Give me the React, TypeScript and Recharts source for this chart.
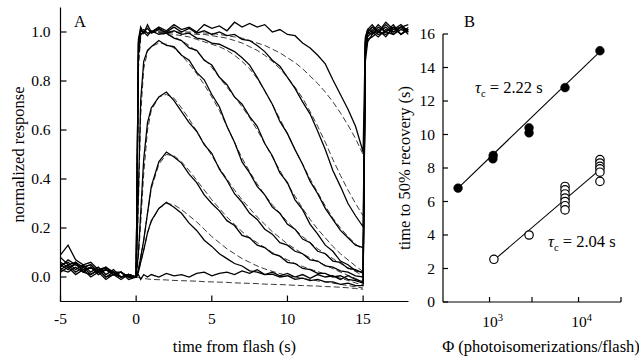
import React from 'react';
import { ComposedChart, LineChart, Line, XAxis, YAxis, Scatter } from 'recharts';

// ---------- Panel A: normalized responses ----------
const T = [-5, -4.5, -4, -3.5, -3, -2.5, -2, -1.5, -1, -0.5, 0, 0.15, 0.3, 0.5, 0.75,
  1, 1.5, 2, 2.5, 3, 3.5, 4, 4.5, 5, 5.5, 6, 6.5, 7, 7.5, 8, 8.5, 9, 9.5, 10, 10.5,
  11, 11.5, 12, 12.5, 13, 13.5, 14, 14.5, 15, 15.15, 15.3, 15.6, 16, 16.5, 17, 17.5, 18];

const TRACE_NONE = [0.02, 0.04, 0.01, 0.03, 0.0, 0.02, -0.01, 0.01, -0.01, 0.01, 0.0,
  0.01, -0.01, 0.01, 0.0,
  0.01, 0.0, 0.015, 0.005, 0.01, 0.0, 0.015, 0.02, 0.005, 0.015, 0.02, 0.01, 0.025, 0.015, 0.03,
  0.01, 0.02, 0.005, 0.015, 0.0, 0.01, -0.005, 0.01, 0.0, 0.005, -0.01, 0.005, -0.01, -0.02,
  0.88, 0.96, 0.99, 1.01, 0.98, 1.02, 0.99, 1.01];
const TRACE_030 = [0.06, 0.04, 0.05, 0.03, 0.04, 0.02, 0.03, 0.01, 0.02, 0.0, 0.0,
  0.02, 0.06, 0.11, 0.18,
  0.23, 0.28, 0.305, 0.285, 0.26, 0.22, 0.19, 0.15, 0.125, 0.095, 0.075, 0.055, 0.045, 0.025, 0.02,
  0.01, 0.012, 0.0, 0.005, -0.01, -0.005, -0.015, -0.01, -0.02, -0.02, -0.03, -0.025, -0.035, -0.035,
  0.91, 0.97, 0.98, 1.0, 1.02, 0.99, 1.01, 1.0];
const TRACE_050 = [0.08, 0.05, 0.06, 0.04, 0.05, 0.02, 0.03, 0.01, 0.02, 0.0, 0.0,
  0.03, 0.08, 0.15, 0.26,
  0.37, 0.47, 0.51, 0.49, 0.465, 0.42, 0.385, 0.335, 0.3, 0.27, 0.23, 0.21, 0.17, 0.16, 0.13,
  0.12, 0.095, 0.085, 0.06, 0.055, 0.035, 0.03, 0.015, 0.015, 0.0, 0.005, -0.01, -0.015, -0.025,
  0.93, 0.98, 1.0, 0.98, 1.01, 1.0, 1.02, 0.99];
const TRACE_074 = [0.05, 0.06, 0.03, 0.05, 0.02, 0.04, 0.01, 0.03, 0.0, 0.01, 0.0,
  0.1, 0.26, 0.48, 0.63,
  0.69, 0.735, 0.755, 0.72, 0.675, 0.63, 0.595, 0.54, 0.505, 0.44, 0.395, 0.34, 0.305, 0.26, 0.235,
  0.195, 0.175, 0.14, 0.13, 0.105, 0.095, 0.07, 0.065, 0.045, 0.04, 0.025, 0.02, 0.005, 0.0,
  0.94, 0.99, 1.01, 0.99, 1.0, 1.03, 0.99, 1.01];
const TRACE_095 = [0.04, 0.07, 0.05, 0.04, 0.05, 0.02, 0.04, 0.01, 0.02, -0.01, 0.0,
  0.35, 0.72, 0.88, 0.925,
  0.94, 0.965, 0.945, 0.94, 0.905, 0.885, 0.835, 0.805, 0.745, 0.695, 0.615, 0.55, 0.47, 0.425, 0.37,
  0.335, 0.285, 0.26, 0.215, 0.195, 0.155, 0.14, 0.105, 0.095, 0.065, 0.06, 0.035, 0.03, 0.015,
  0.95, 1.0, 0.99, 1.02, 1.0, 0.99, 1.02, 1.0];
const TRACE_SAT1 = [0.03, 0.02, 0.04, 0.02, 0.01, 0.03, 0.0, 0.01, 0.0, 0.01, 0.0,
  0.9, 0.99, 1.0, 0.985,
  1.005, 0.99, 0.995, 0.975, 0.965, 0.935, 0.925, 0.885, 0.865, 0.815, 0.785, 0.735, 0.705, 0.655, 0.615,
  0.545, 0.495, 0.425, 0.385, 0.315, 0.275, 0.215, 0.175, 0.13, 0.105, 0.065, 0.05, 0.025, 0.02,
  0.96, 1.0, 1.02, 1.0, 0.99, 1.01, 1.03, 1.0];
const TRACE_SAT2 = [0.09, 0.13, 0.07, 0.05, 0.06, 0.03, 0.04, 0.02, 0.02, 0.0, 0.0,
  0.95, 1.0, 1.01, 0.995,
  1.0, 1.015, 0.995, 1.005, 0.99, 0.995, 0.975, 0.97, 0.955, 0.95, 0.935, 0.92, 0.895, 0.865, 0.815,
  0.76, 0.705, 0.635, 0.585, 0.52, 0.46, 0.39, 0.34, 0.28, 0.235, 0.19, 0.16, 0.13, 0.12,
  0.97, 1.01, 1.0, 1.03, 1.0, 1.02, 0.99, 1.02];
const TRACE_SAT3 = [0.05, 0.03, 0.06, 0.02, 0.04, 0.01, 0.03, 0.02, 0.0, 0.01, 0.0,
  0.96, 1.01, 1.0, 1.015,
  0.995, 1.01, 1.0, 1.02, 1.0, 1.015, 0.995, 1.005, 0.99, 1.0, 0.985, 0.99, 0.97, 0.965, 0.945,
  0.92, 0.885, 0.86, 0.815, 0.77, 0.715, 0.665, 0.595, 0.52, 0.435, 0.37, 0.3, 0.25, 0.205,
  0.96, 1.0, 1.02, 1.0, 1.03, 1.0, 1.02, 1.01];
const TRACE_SAT4 = [0.03, 0.05, 0.02, 0.04, 0.01, 0.03, 0.0, 0.02, 0.0, 0.01, 0.0,
  0.97, 1.02, 0.995, 1.03,
  1.0, 1.02, 1.005, 1.03, 1.01, 1.02, 1.0, 1.03, 1.015, 1.025, 1.005, 1.04, 1.02, 1.035, 1.02,
  1.03, 1.0, 1.01, 0.99, 0.985, 0.955, 0.935, 0.905, 0.87, 0.805, 0.745, 0.685, 0.615, 0.51,
  0.98, 1.01, 1.03, 1.0, 1.04, 1.01, 1.02, 1.03];

// model fits (dashed), defined from t = 0 to t = 15 (T index 10 .. 43)
const FIT_START = 10;
const FIT_NONE = [0, -0.002, -0.004, -0.006, -0.008,
  -0.01, -0.011, -0.012, -0.014, -0.015, -0.016, -0.017, -0.019, -0.02, -0.021, -0.022, -0.024,
  -0.025, -0.026, -0.027, -0.029, -0.03, -0.031, -0.032, -0.034, -0.035, -0.036, -0.037, -0.039,
  -0.04, -0.042, -0.044, -0.047, -0.05];
const FIT_030 = [0, 0.02, 0.06, 0.11, 0.18,
  0.225, 0.28, 0.3, 0.295, 0.275, 0.25, 0.225, 0.195, 0.165, 0.14, 0.115, 0.095, 0.075, 0.06, 0.045,
  0.033, 0.023, 0.014, 0.006, 0.0, -0.006, -0.011, -0.016, -0.02, -0.025, -0.03, -0.035, -0.04, -0.045];
const FIT_050 = [0, 0.03, 0.08, 0.15, 0.26,
  0.36, 0.46, 0.5, 0.495, 0.47, 0.435, 0.395, 0.355, 0.315, 0.28, 0.245, 0.215, 0.185, 0.16, 0.14,
  0.12, 0.1, 0.085, 0.07, 0.055, 0.043, 0.032, 0.022, 0.012, 0.004, -0.005, -0.014, -0.024, -0.034];
const FIT_074 = [0, 0.08, 0.22, 0.42, 0.6,
  0.68, 0.735, 0.745, 0.73, 0.69, 0.645, 0.595, 0.545, 0.495, 0.445, 0.4, 0.355, 0.315, 0.28, 0.245,
  0.215, 0.185, 0.16, 0.135, 0.115, 0.095, 0.078, 0.062, 0.048, 0.034, 0.02, 0.007, -0.006, -0.02];
const FIT_095 = [0, 0.3, 0.66, 0.85, 0.92,
  0.94, 0.955, 0.95, 0.935, 0.905, 0.87, 0.83, 0.785, 0.735, 0.68, 0.615, 0.55, 0.485, 0.43, 0.38,
  0.335, 0.295, 0.26, 0.225, 0.195, 0.165, 0.14, 0.115, 0.095, 0.075, 0.055, 0.038, 0.022, 0.005];
const FIT_SAT1 = [0, 0.85, 0.98, 1.0, 1.0,
  1.0, 0.995, 0.99, 0.98, 0.965, 0.945, 0.92, 0.89, 0.855, 0.815, 0.775, 0.735, 0.695, 0.65, 0.6,
  0.545, 0.49, 0.435, 0.38, 0.33, 0.28, 0.235, 0.195, 0.16, 0.125, 0.095, 0.07, 0.045, 0.022];
const FIT_SAT2 = [0, 0.88, 0.99, 1.0, 1.0,
  1.0, 1.0, 0.995, 0.99, 0.985, 0.98, 0.97, 0.96, 0.95, 0.94, 0.925, 0.905, 0.88, 0.85, 0.81,
  0.76, 0.705, 0.645, 0.585, 0.52, 0.46, 0.4, 0.345, 0.29, 0.24, 0.2, 0.165, 0.135, 0.11];
const FIT_SAT3 = [0, 0.9, 0.99, 1.0, 1.0,
  1.0, 1.0, 1.0, 1.0, 0.995, 0.995, 0.99, 0.99, 0.985, 0.98, 0.975, 0.965, 0.955, 0.94, 0.925,
  0.905, 0.88, 0.85, 0.815, 0.775, 0.73, 0.675, 0.615, 0.55, 0.48, 0.415, 0.355, 0.3, 0.25];
const FIT_SAT4 = [0, 0.9, 0.99, 1.0, 1.0,
  1.0, 1.0, 1.0, 1.0, 1.0, 1.0, 0.998, 0.996, 0.994, 0.99, 0.985, 0.98, 0.975, 0.965, 0.955,
  0.945, 0.93, 0.915, 0.895, 0.875, 0.85, 0.82, 0.79, 0.755, 0.715, 0.67, 0.62, 0.565, 0.5];

const A_X_TICKS = [-5, 0, 5, 10, 15];
const A_Y_TICKS = [0, 0.2, 0.4, 0.6, 0.8, 1.0];

// ---------- Panel B: time to 50% recovery ----------
const FILLED_PHI = [443, 1090, 1100, 2780, 2780, 7050, 17400];
const FILLED_T50 = [6.8, 8.55, 8.75, 10.1, 10.4, 12.8, 15.0];
const OPEN_PHI = [1120, 2780, 7050, 7050, 7050, 7050, 7050, 7050, 7050,
  17400, 17400, 17400, 17400, 17400, 17400];
const OPEN_T50 = [2.55, 4.0, 6.9, 6.7, 6.45, 6.2, 6.0, 5.75, 5.5,
  8.5, 8.3, 8.1, 7.95, 7.75, 7.2];
const FIT_FILLED_PHI = [443, 17400];
const FIT_FILLED_T50 = [6.8, 14.95];
const FIT_OPEN_PHI = [1120, 17400];
const FIT_OPEN_T50 = [2.5, 7.9];

const B_X_TICKS = [1000, 3000, 10000, 30000];
const B_X_LABELS: Record<number, string> = { 1000: '3', 10000: '4' };
const B_Y_TICKS = [0, 2, 4, 6, 8, 10, 12, 14, 16];

const FONT = "'Liberation Serif', 'Times New Roman', Times, serif";
const TITLE_SIZE = 16.5;

const traces = [TRACE_NONE, TRACE_030, TRACE_050, TRACE_074, TRACE_095, TRACE_SAT1, TRACE_SAT2, TRACE_SAT3, TRACE_SAT4];
const fits = [FIT_NONE, FIT_030, FIT_050, FIT_074, FIT_095, FIT_SAT1, FIT_SAT2, FIT_SAT3, FIT_SAT4];

const rowsA = T.map((t, i) => {
  const row: Record<string, number | null> = { t };
  traces.forEach((arr, k) => { row['r' + k] = arr[i]; });
  fits.forEach((arr, k) => {
    const j = i - FIT_START;
    row['f' + k] = j >= 0 && j < arr.length ? arr[j] : null;
  });
  return row;
});

const filledPts = FILLED_PHI.map((p, i) => ({ phi: p, t50: FILLED_T50[i] }));
const openPts = OPEN_PHI.map((p, i) => ({ phi: p, t50: OPEN_T50[i] }));
const fitFilled = FIT_FILLED_PHI.map((p, i) => ({ phi: p, t50: FIT_FILLED_T50[i] }));
const fitOpen = FIT_OPEN_PHI.map((p, i) => ({ phi: p, t50: FIT_OPEN_T50[i] }));

const TICK_LEN = 6;

const BottomTickA = (props: any) => {
  const { x, y, payload } = props;
  return (
    <g>
      <line x1={x} x2={x} y1={y} y2={y - TICK_LEN} stroke="#000" strokeWidth={1.2} />
      <text x={x} y={y + 22.5} textAnchor="middle" fontSize={15.5} fontFamily={FONT} fill="#000">
        {String(payload.value)}
      </text>
    </g>
  );
};

const LeftTickA = (props: any) => {
  const { x, y, payload } = props;
  return (
    <g>
      <line x1={x} x2={x + TICK_LEN} y1={y} y2={y} stroke="#000" strokeWidth={1.2} />
      <text x={x - 10} y={y + 5} textAnchor="end" fontSize={15.5} fontFamily={FONT} fill="#000">
        {Number(payload.value).toFixed(1)}
      </text>
    </g>
  );
};

const BottomTickB = (props: any) => {
  const { x, y, payload } = props;
  const sup = B_X_LABELS[payload.value];
  return (
    <g>
      <line x1={x} x2={x} y1={y} y2={y - 5} stroke="#000" strokeWidth={1.2} />
      {sup ? (
        <text x={x + 3} y={y + 25} textAnchor="middle" fontSize={15.5} fontFamily={FONT} fill="#000">
          10<tspan dy={-6} fontSize={10.5}>{sup}</tspan>
        </text>
      ) : null}
    </g>
  );
};

const LeftTickB = (props: any) => {
  const { x, y, payload } = props;
  return (
    <g>
      <line x1={x} x2={x + 5} y1={y} y2={y} stroke="#000" strokeWidth={1.2} />
      <text x={x - 8} y={y + 5} textAnchor="end" fontSize={15.5} fontFamily={FONT} fill="#000">
        {String(payload.value)}
      </text>
    </g>
  );
};

const axisLine = { stroke: '#000', strokeWidth: 1.2 };

export default function App() {
  return (
    <div style={{ position: 'absolute', left: 0, top: 0, width: 639, height: 358, background: '#fff', fontFamily: FONT }}>
      <div style={{ position: 'absolute', left: 0, top: 0 }}>
        <LineChart width={420} height={358} data={rowsA} margin={{ top: 7.5, right: 11.5, bottom: 26.5, left: 0 }}>
          <XAxis
            type="number" dataKey="t" domain={[-5, 18]} ticks={A_X_TICKS} allowDataOverflow
            height={30} tickSize={0} tickMargin={0} tickLine={false} axisLine={axisLine}
            tick={BottomTickA} interval={0}
            label={{
              content: () => (
                <text x={234.5} y={352} textAnchor="middle" fontSize={TITLE_SIZE} fontFamily={FONT} fill="#000">
                  time from flash (s)
                </text>
              ),
            }}
          />
          <YAxis
            type="number" domain={[-0.1, 1.1]} ticks={A_Y_TICKS} allowDataOverflow
            width={60.5} tickSize={0} tickMargin={0} tickLine={false} axisLine={axisLine}
            tick={LeftTickA} interval={0}
            label={{
              content: () => (
                <text x={23.5} y={154.5} transform="rotate(-90 23.5 154.5)" textAnchor="middle" fontSize={TITLE_SIZE} fontFamily={FONT} fill="#000">
                  normalized response
                </text>
              ),
            }}
          />
          {fits.map((_, k) => (
            <Line key={'f' + k} type="linear" dataKey={'f' + k} stroke="#222" strokeWidth={0.9}
              strokeDasharray="6 3" dot={false} isAnimationActive={false} connectNulls={false} />
          ))}
          {traces.map((_, k) => (
            <Line key={'r' + k} type="linear" dataKey={'r' + k} stroke="#000" strokeWidth={1.3}
              dot={false} isAnimationActive={false} />
          ))}
        </LineChart>
      </div>
      <div style={{ position: 'absolute', left: 380, top: 0 }}>
        <ComposedChart width={259} height={358} margin={{ top: 34, right: 18, bottom: 26, left: 0 }}>
          <XAxis
            type="number" dataKey="phi" scale="log" domain={[300, 30000]} ticks={B_X_TICKS} allowDataOverflow
            height={30} tickSize={0} tickMargin={0} tickLine={false} axisLine={axisLine}
            tick={BottomTickB} interval={0}
            label={{
              content: () => (
                <text x={161} y={352} textAnchor="middle" fontSize={TITLE_SIZE} fontFamily={FONT} fill="#000">
                  Φ (photoisomerizations/flash)
                </text>
              ),
            }}
          />
          <YAxis
            type="number" dataKey="t50" domain={[0, 16]} ticks={B_Y_TICKS} allowDataOverflow
            width={63} tickSize={0} tickMargin={0} tickLine={false} axisLine={axisLine}
            tick={LeftTickB} interval={0}
            label={{
              content: () => (
                <text x={30} y={168} transform="rotate(-90 30 168)" textAnchor="middle" fontSize={TITLE_SIZE} fontFamily={FONT} fill="#000">
                  time to 50% recovery (s)
                </text>
              ),
            }}
          />
          <Line data={fitFilled} dataKey="t50" type="linear" stroke="#000" strokeWidth={1.1} dot={false} isAnimationActive={false} />
          <Line data={fitOpen} dataKey="t50" type="linear" stroke="#000" strokeWidth={1.1} dot={false} isAnimationActive={false} />
          <Scatter data={openPts} dataKey="t50" isAnimationActive={false}
            shape={(p: any) => <circle cx={p.cx} cy={p.cy} r={4.2} fill="#fff" stroke="#000" strokeWidth={1.2} />} />
          <Scatter data={filledPts} dataKey="t50" isAnimationActive={false}
            shape={(p: any) => <circle cx={p.cx} cy={p.cy} r={4.4} fill="#000" stroke="#000" strokeWidth={0.5} />} />
        </ComposedChart>
      </div>
      <svg width={639} height={358} style={{ position: 'absolute', left: 0, top: 0, pointerEvents: 'none' }}>
        <text x={74} y={27} fontSize={TITLE_SIZE} fontFamily={FONT} fill="#000">A</text>
        <text x={464} y={27} fontSize={TITLE_SIZE} fontFamily={FONT} fill="#000">B</text>
        <text x={475} y={93} fontSize={TITLE_SIZE} fontFamily={FONT} fill="#000">
          <tspan fontStyle="italic">τ</tspan><tspan dy={4} fontSize={10.5}>c</tspan><tspan dy={-4}> = 2.22 s</tspan>
        </text>
        <text x={548} y={247} fontSize={TITLE_SIZE} fontFamily={FONT} fill="#000">
          <tspan fontStyle="italic">τ</tspan><tspan dy={4} fontSize={10.5}>c</tspan><tspan dy={-4}> = 2.04 s</tspan>
        </text>
      </svg>
    </div>
  );
}
